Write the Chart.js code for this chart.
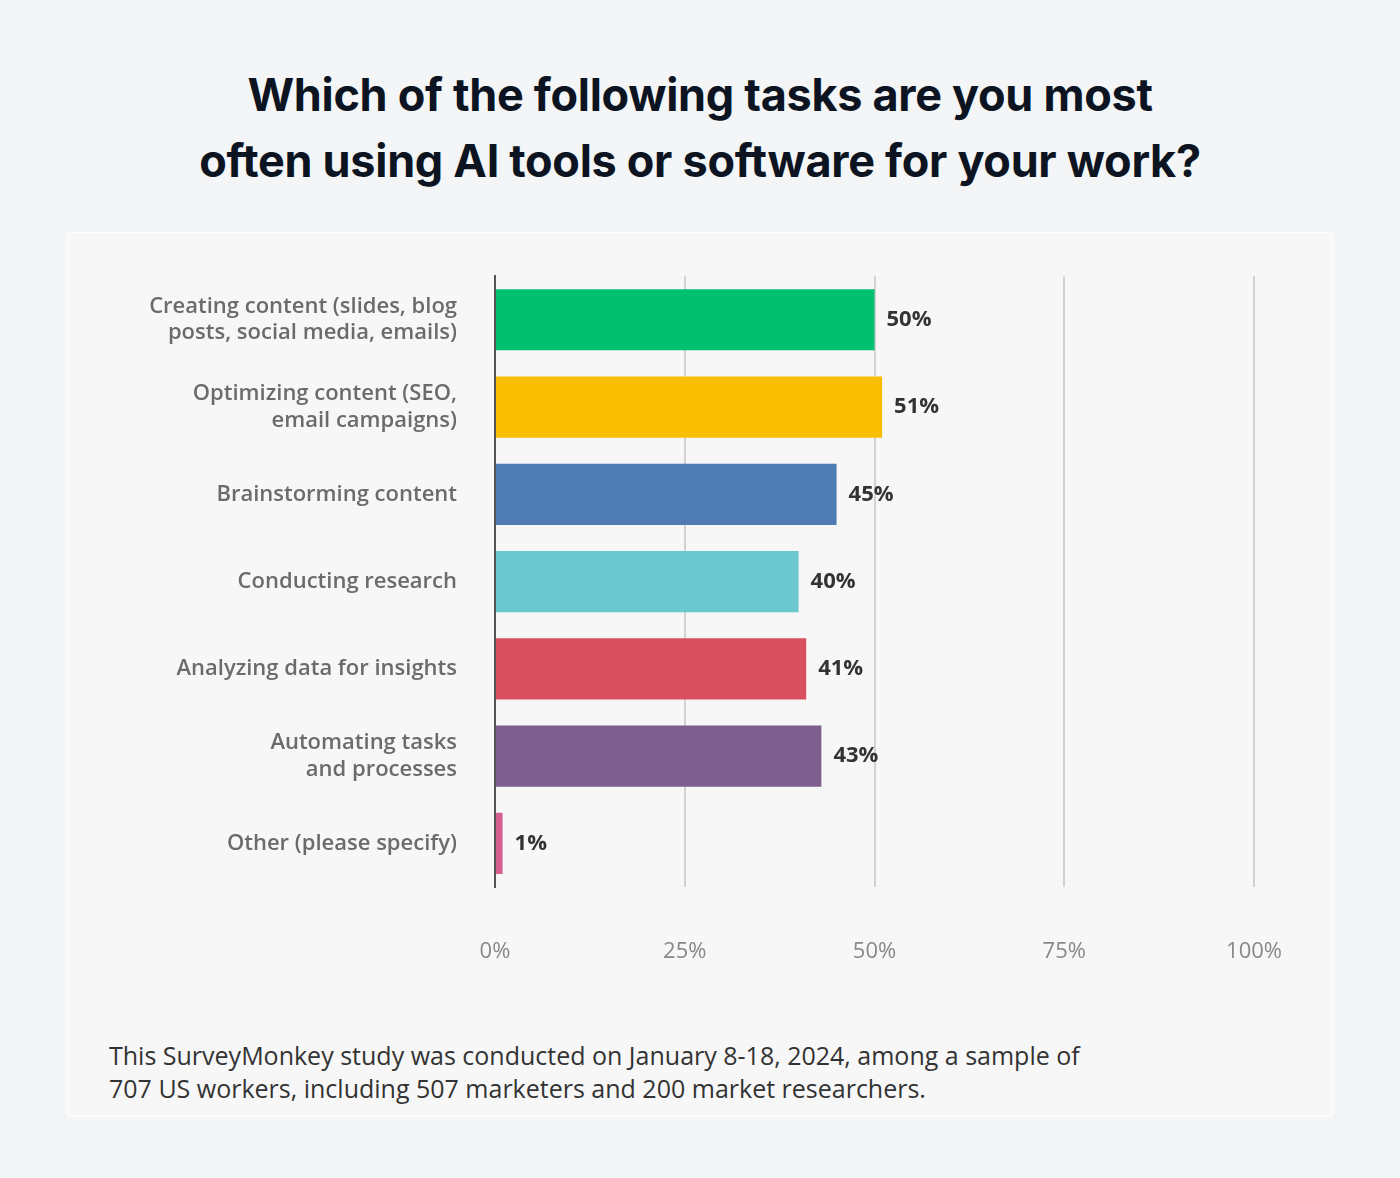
<!DOCTYPE html>
<html>
<head>
<meta charset="utf-8">
<script src="https://cdn.jsdelivr.net/npm/chart.js@4"></script>
<style>
  body { margin: 0; width: 1400px; height: 1178px; background: #f4f5f7; font-family: "Open Sans", sans-serif; position: relative; }
  h1 { position: absolute; top: 62px; left: 0; width: 1400px; margin: 0; text-align: center;
       font-family: Inter, sans-serif; font-weight: 700; font-size: 45px; line-height: 66px; color: #0c1422; letter-spacing: -0.3px; }
  .card { position: absolute; left: 67px; top: 232px; width: 1264px; height: 883px; background: #f7f7f7; border: 1px solid #fff; border-radius: 3px; }
  .chart-box { position: absolute; left: 0; top: 0; width: 1266px; height: 760px; }
  .note { position: absolute; left: 41px; top: 806px; font-size: 25px; line-height: 33px; color: #333; }
</style>
</head>
<body>
<h1>Which of the following tasks are you most<br>often using AI tools or software for your work?</h1>
<div class="card">
  <div class="chart-box"><canvas id="chart"></canvas></div>
  <div class="note">This SurveyMonkey study was conducted on January 8-18, 2024, among a sample of<br>707 US workers, including 507 marketers and 200 market researchers.</div>
</div>
<script>
// ─── DADOS ─────────────────────────────────────────────
const categories = [
  ['Creating content (slides, blog', 'posts, social media, emails)'],
  ['Optimizing content (SEO,', 'email campaigns)'],
  'Brainstorming content',
  'Conducting research',
  'Analyzing data for insights',
  ['Automating tasks', 'and processes'],
  'Other (please specify)',
];
const values = [50, 51, 45, 40, 41, 43, 1];
const barColors = ['#00bf6f', '#f9be00', '#507cb6', '#6cc8cf', '#da4f5f', '#7e5e8e', '#d6608f'];
const xTicks = [0, 25, 50, 75, 100];

// rótulos de valor ao fim das barras
const valueLabels = {
  id: 'valueLabels',
  afterDatasetsDraw(chart) {
    const ctx = chart.ctx;
    const meta = chart.getDatasetMeta(0);
    ctx.save();
    ctx.font = '700 22px "Open Sans"';
    ctx.fillStyle = '#333';
    ctx.textBaseline = 'middle';
    meta.data.forEach((bar, i) => {
      ctx.fillText(values[i] + '%', bar.x + 12, bar.y);
    });
    ctx.restore();
  },
};

new Chart(document.getElementById('chart'), {
  type: 'bar',
  data: {
    labels: categories,
    datasets: [{ data: values, backgroundColor: barColors, barPercentage: 0.7, categoryPercentage: 1 }],
  },
  options: {
    indexAxis: 'y',
    responsive: true,
    maintainAspectRatio: false,
    animation: false,
    layout: { padding: { top: 35, right: 68 } },
    plugins: { legend: { display: false }, tooltip: { enabled: false } },
    scales: {
      x: {
        min: 0, max: 100,
        afterBuildTicks: axis => { axis.ticks = xTicks.map(v => ({ value: v })); },
        afterFit: axis => { axis.height = 106; },
        ticks: { color: '#888', font: { family: 'Open Sans', size: 22 }, padding: 52, callback: v => v + '%' },
        grid: { color: '#d2d2d2', lineWidth: 2, drawTicks: false },
        border: { display: false },
      },
      y: {
        afterFit: axis => { axis.width = 427; },
        ticks: { color: '#6b6b6b', font: { family: 'Open Sans', size: 22, weight: '600' }, padding: 30 },
        grid: { display: false },
        border: { color: '#555', width: 2 },
      },
    },
  },
  plugins: [valueLabels],
});
</script>
</body>
</html>
